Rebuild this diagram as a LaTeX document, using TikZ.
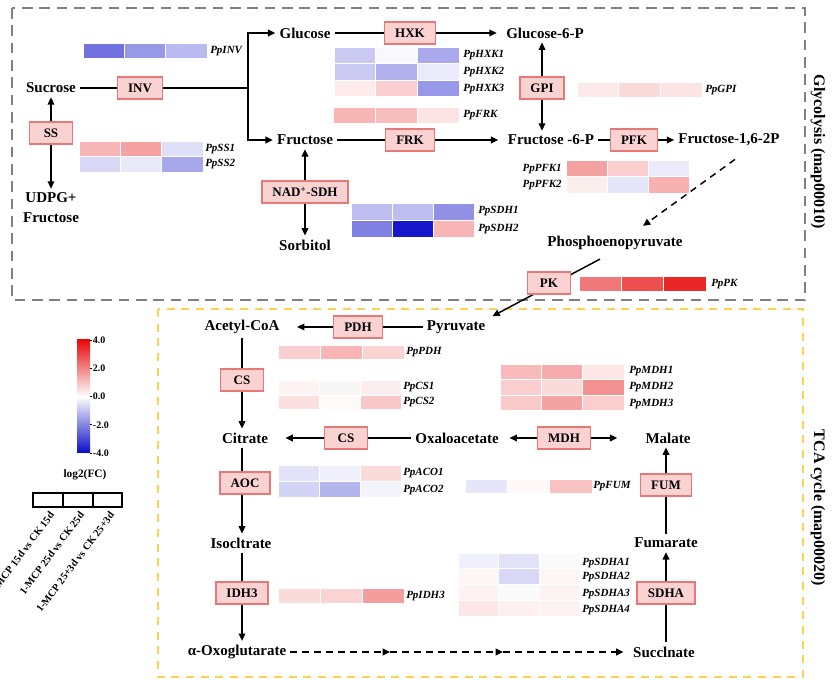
\documentclass[tikz,border=0pt]{standalone}
\usepackage{fontspec}
\setmainfont{Liberation Serif}
\usetikzlibrary{arrows.meta,calc}
\definecolor{hb}{RGB}{10,10,200}
\definecolor{hr}{RGB}{230,10,10}
\definecolor{enzF}{RGB}{250,210,210}
\definecolor{enzD}{RGB}{232,120,120}
\definecolor{greyB}{RGB}{128,128,128}
\definecolor{yelB}{RGB}{250,212,80}
\newcommand{\hmrow}[7]{%
  \filldraw[fill=#5,draw=white,line width=0.4pt] (#1,#2) rectangle ++(#3,#4);
  \filldraw[fill=#6,draw=white,line width=0.4pt] (#1+#3,#2) rectangle ++(#3,#4);
  \filldraw[fill=#7,draw=white,line width=0.4pt] (#1+2*#3,#2) rectangle ++(#3,#4);
}
\tikzset{
  met/.style={font=\fontsize{11.25}{15}\selectfont\bfseries, inner sep=3pt},
  enz/.style={draw=enzD, fill=enzF, line width=1.2pt, font=\fontsize{9.75}{11}\selectfont\bfseries,
    minimum width=32pt, minimum height=16.5pt, inner xsep=8pt, inner ysep=2pt},
  gene/.style={font=\fontsize{8.25}{9}\selectfont\bfseries\itshape, inner sep=0pt, anchor=west},
  ln/.style={line width=1.1pt},
  arr/.style={line width=1.1pt, -{Triangle[length=5.5pt,width=5pt]}},
  darr/.style={arr, dash pattern=on 5pt off 4pt},
  grybox/.style={draw=greyB, line width=1.8pt, dash pattern=on 8pt off 5pt},
  yelbox/.style={draw=yelB, line width=1.8pt, dash pattern=on 6pt off 5pt},
  title/.style={font=\fontsize{12}{14}\selectfont\bfseries, rotate=-90},
  leglab/.style={font=\fontsize{7.8}{9}\selectfont\bfseries, rotate=53, anchor=east, inner sep=0pt},
  tick/.style={font=\fontsize{7.5}{8}\selectfont\bfseries, anchor=west, inner sep=0.5pt},
}
\begin{document}
\begin{tikzpicture}[x=0.75pt,y=-0.75pt]
\useasboundingbox (0,0) rectangle (832,680);
% frames
\draw[grybox] (12,8) rectangle (805,300);
\draw[yelbox] (158,309) rectangle (803,677);
\node[title] (t1) at (818,152) {Glycolysis (map00010)};
\node[title] (t2) at (818,508) {TCA cycle (map00020)};

% ---------- Glycolysis metabolites ----------
\node[met] (suc) at (51,88) {Sucrose};
\node[met, align=center] (udpg) at (51,208) {UDPG+\\Fructose};
\node[met] (glc) at (305,33) {Glucose};
\node[met] (fru) at (305,140) {Fructose};
\node[met] (sor) at (305,245) {Sorbitol};
\node[met] (g6p) at (545,33) {Glucose-6-P};
\node[met] (f6p) at (551,140) {Fructose -6-P};
\node[met] (f16p) at (729,140) {Fructose-1,6-2P};
\node[met] (pep) at (615,243) {Phosphoenopyruvate};

% enzymes
\node[enz] (inv) at (140,88) {INV};
\node[enz] (ss) at (51,133) {SS};
\node[enz] (sdh) at (305,192) {NAD\textsuperscript{+}-SDH};
\node[enz] (hxk) at (410,33) {HXK};
\node[enz] (frk) at (410,140) {FRK};
\node[enz] (gpi) at (542,88) {GPI};
\node[enz] (pfk) at (634,140) {PFK};

% connectors glycolysis
\coordinate (br) at (248,88);
\draw[ln] (suc) -- (inv) -- (br);
\draw[arr] (br) |- (glc.west);
\draw[arr] (br) |- (fru.west);
\draw[arr] (ss) -- (suc);
\draw[arr] (ss) -- (udpg);
\draw[arr] (sdh) -- (fru);
\draw[arr] (sdh) -- (sor);
\draw[ln] (glc) -- (hxk);
\draw[arr, shorten >=4pt] (hxk) -- (g6p);
\draw[ln] (fru) -- (frk);
\draw[arr, shorten >=4pt] (frk) -- (f6p);
\draw[arr] (gpi.north) -- (gpi.north |- g6p.south);
\draw[arr] (gpi.south) -- (gpi.south |- f6p.north);
\draw[ln] (f6p) -- (pfk);
\draw[arr] (pfk) -- (f16p);
\draw[darr] ($(f16p.south)+(6,9)$) -- ($(pep.north)+(28,-6)$);

% ---------- TCA metabolites ----------
\node[met] (pyr) at (456,327) {Pyruvate};
\node[met] (acoa) at (242,327) {Acetyl-CoA};
\node[met] (cit) at (245,438) {Citrate};
\node[met] (oaa) at (457,438) {Oxaloacetate};
\node[met] (mal) at (668,438) {Malate};
\node[met] (iso) at (241,543) {Isocltrate};
\node[met] (oxo) at (237,652) {α-Oxoglutarate};
\node[met] (succ) at (664,652) {Succlnate};
\node[met] (fum) at (666,543) {Fumarate};

% PEP -> pyruvate via PK
\draw[arr] ($(pep.south)+(-15,5)$) -- ($(pyr.north east)+(3,0)$);
\node[enz] (pk) at (549,283) {PK};

\node[enz] (pdh) at (358,327) {PDH};
\node[enz] (cs1) at (242,380) {CS};
\node[enz] (cs2) at (346,438) {CS};
\node[enz] (mdh) at (564,438) {MDH};
\node[enz] (aoc) at (245,483) {AOC};
\node[enz] (idh) at (242,593) {IDH3};
\node[enz] (fumz) at (666,485) {FUM};
\node[enz] (sdha) at (666,593) {SDHA};

\draw[ln] (pyr) -- (pdh);
\draw[arr, shorten >=10pt] (pdh) -- (acoa);
\draw[ln] (acoa.south -| cs1) -- (cs1);
\draw[arr] (cs1.south) -- (cs1.south |- cit.north);
\draw[ln] (oaa) -- (cs2);
\draw[arr, shorten >=10pt] (cs2) -- (cit);
\draw[arr, shorten >=5pt] (mdh) -- (oaa);
\draw[arr, shorten >=18pt] (mdh) -- (mal);
\draw[ln] (cit.south -| cs1) -- (cs1 |- aoc.north);
\draw[arr] (cs1 |- aoc.south) -- (cs1 |- iso.north);
\draw[ln] (iso.south -| idh) -- (idh);
\draw[arr] (idh.south) -- (idh.south |- oxo.north);
\coordinate (m1) at (390,652);
\coordinate (m2) at (503,652);
\draw[darr] (oxo) -- (m1);
\draw[darr] (m1) -- (m2);
\draw[darr, shorten >=4pt] (m2) -- (succ);
\draw[ln] (succ.north -| sdha) -- (sdha);
\draw[arr] (sdha) -- (fum);
\draw[ln] (fum) -- (fumz);
\draw[arr] (fumz.north) -- (fumz.north |- mal.south);

% ---------- heatmaps ----------
\hmrow{83}{43}{41.3}{15}{hb!58!white}{hb!42!white}{hb!28!white}
\node[gene] (gINV) at (210,51) {PpINV};

\hmrow{334}{47}{41.7}{16.5}{hb!22!white}{hb!3!white}{hb!35!white}
\hmrow{334}{63.5}{41.7}{16.5}{hb!22!white}{hb!32!white}{hb!8!white}
\hmrow{334}{80}{41.7}{16.5}{hr!8!white}{hr!20!white}{hb!42!white}
\node[gene] (gHXK1) at (463,55) {PpHXK1};
\node[gene] (gHXK2) at (463,72) {PpHXK2};
\node[gene] (gHXK3) at (463,89) {PpHXK3};

\hmrow{333}{107}{42}{16.5}{hr!30!white}{hr!27!white}{hr!11!white}
\node[gene] (gFRK) at (463,115) {PpFRK};

\hmrow{79}{141}{41.3}{15.5}{hr!30!white}{hr!38!white}{hb!13!white}
\hmrow{79}{156.5}{41.3}{15.5}{hb!16!white}{hb!9!white}{hb!36!white}
\node[gene] (gSS1) at (205,149) {PpSS1};
\node[gene] (gSS2) at (205,164) {PpSS2};

\hmrow{351}{203}{41}{17}{hb!27!white}{hb!27!white}{hb!45!white}
\hmrow{351}{220}{41}{17}{hb!52!white}{hb!95!white}{hr!30!white}
\node[gene] (gSDH1) at (478,211) {PpSDH1};
\node[gene] (gSDH2) at (478,229) {PpSDH2};

\hmrow{577}{82}{41.7}{15}{hr!9!white}{hr!15!white}{hr!11!white}
\node[gene] (gGPI) at (705,90) {PpGPI};

\hmrow{566}{160}{41}{16.5}{hr!38!white}{hr!20!white}{hb!8!white}
\hmrow{566}{176.5}{41}{16.5}{hr!7!white}{hb!10!white}{hr!32!white}
\node[gene, anchor=east] (gPFK1) at (562,169) {PpPFK1};
\node[gene, anchor=east] (gPFK2) at (562,185) {PpPFK2};

\hmrow{579}{276}{42.3}{15}{hr!55!white}{hr!72!white}{hr!88!white}
\node[gene] (gPK) at (711,284) {PpPK};

\hmrow{278}{345}{42}{14.5}{hr!20!white}{hr!30!white}{hr!18!white}
\node[gene] (gPDH) at (406,352) {PpPDH};

\hmrow{278}{380.5}{41}{14.5}{hr!5!white}{white!97!black}{hr!7!white}
\hmrow{278}{395}{41}{14}{hr!13!white}{hr!2!white}{hr!23!white}
\node[gene] (gCS1) at (403,387) {PpCS1};
\node[gene] (gCS2) at (403,402) {PpCS2};

\hmrow{500}{364}{41.3}{15.5}{hr!28!white}{hr!34!white}{hr!10!white}
\hmrow{500}{379.5}{41.3}{15.5}{hr!20!white}{hr!15!white}{hr!45!white}
\hmrow{500}{395}{41.3}{15.5}{hr!22!white}{hr!38!white}{hr!20!white}
\node[gene] (gMDH1) at (629,371) {PpMDH1};
\node[gene] (gMDH2) at (629,387) {PpMDH2};
\node[gene] (gMDH3) at (629,404) {PpMDH3};

\hmrow{278}{465}{41}{16}{hb!12!white}{hb!6!white}{hr!15!white}
\hmrow{278}{481}{41}{16}{hb!18!white}{hb!30!white}{hb!5!white}
\node[gene] (gACO1) at (403,473) {PpACO1};
\node[gene] (gACO2) at (403,490) {PpACO2};

\hmrow{465}{479}{42.3}{14}{hb!10!white}{hr!3!white}{hr!25!white}
\node[gene] (gFUM) at (593,486) {PpFUM};

\hmrow{278}{588}{42}{15}{hr!15!white}{hr!18!white}{hr!40!white}
\node[gene] (gIDH3) at (406,596) {PpIDH3};

\hmrow{458}{553}{40.7}{15.7}{hb!6!white}{hb!12!white}{white!98!black}
\hmrow{458}{568.7}{40.7}{15.7}{hr!4!white}{hb!16!white}{hr!4!white}
\hmrow{458}{584.4}{40.7}{15.7}{hr!5!white}{white!98!black}{hr!5!white}
\hmrow{458}{600.1}{40.7}{15.7}{hr!10!white}{hr!6!white}{hr!5!white}
\node[gene] (gSDHA1) at (582,563) {PpSDHA1};
\node[gene] (gSDHA2) at (582,577) {PpSDHA2};
\node[gene] (gSDHA3) at (582,594) {PpSDHA3};
\node[gene] (gSDHA4) at (582,610) {PpSDHA4};

% ---------- legend ----------
\shade[top color=hr, bottom color=white] (77,340) rectangle (90,396.5);
\shade[top color=white, bottom color=hb] (77,396.5) rectangle (90,453);
\foreach \yy/\lab in {340/4.0, 368.25/2.0, 396.5/0.0, 424.75/-2.0, 453/-4.0}{
  \draw[line width=0.4pt] (90,\yy) -- (92,\yy);
  \node[tick] at (92,\yy) {\lab};
}
\node[font=\fontsize{8.5}{10}\selectfont\bfseries] (lfc) at (85,475) {log2(FC)};
\draw[line width=1pt] (33,493) rectangle (122,507);
\draw[line width=1pt] (63,493) -- (63,507) (93,493) -- (93,507);
\node[leglab] (l1) at (52,513) {1-MCP 15d vs CK 15d};
\node[leglab] (l2) at (82,513) {1-MCP 25d vs CK 25d};
\node[leglab] (l3) at (112,513) {1-MCP 25+3d vs CK 25+3d};
\end{tikzpicture}
\end{document}
